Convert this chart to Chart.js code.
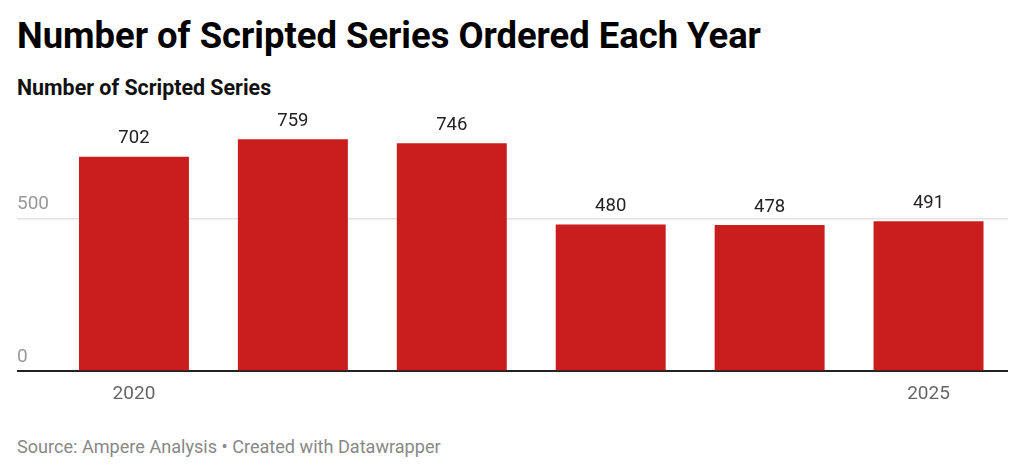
<!DOCTYPE html>
<html>
<head>
<meta charset="utf-8">
<script src="https://cdn.jsdelivr.net/npm/chart.js@4"></script>
<style>
  html, body { margin: 0; padding: 0; background: #fff; width: 1024px; height: 474px; overflow: hidden; font-family: Roboto, "Noto Sans", sans-serif; }
  .t { position: absolute; left: 17px; white-space: nowrap; line-height: 1; }
  #title { top: 18px; font-size: 36.4px; font-weight: 700; color: #000; }
  #subtitle { top: 77px; font-size: 21.4px; font-weight: 700; color: #111; }
  #footer { top: 438px; font-size: 18.1px; color: #888; }
  #wrap { position: absolute; left: 0; top: 100px; width: 1024px; height: 320px; }
</style>
</head>
<body>
<div class="t" id="title">Number of Scripted Series Ordered Each Year</div>
<div class="t" id="subtitle">Number of Scripted Series</div>
<div id="wrap"><canvas id="c"></canvas></div>
<div class="t" id="footer">Source: Ampere Analysis • Created with Datawrapper</div>
<script>
const years = ['2020', '2021', '2022', '2023', '2024', '2025'];
const seriesOrdered = [702, 759, 746, 480, 478, 491];
const xTickLabels = ['2020', '2025'];
const yTickValues = [0, 500];

const valueLabels = {
  id: 'valueLabels',
  afterDatasetsDraw(chart) {
    const ctx = chart.ctx;
    const meta = chart.getDatasetMeta(0);
    ctx.save();
    ctx.font = '18.5px Roboto';
    ctx.fillStyle = '#222';
    ctx.textAlign = 'center';
    ctx.textBaseline = 'alphabetic';
    meta.data.forEach((bar, i) => {
      ctx.fillText(String(seriesOrdered[i]), bar.x, bar.y - 13.5);
    });
    ctx.restore();
  }
};

new Chart(document.getElementById('c'), {
  type: 'bar',
  data: {
    labels: years,
    datasets: [{
      data: seriesOrdered,
      backgroundColor: '#c91d1e',
      borderWidth: 0,
      barPercentage: 0.692,
      categoryPercentage: 1
    }]
  },
  options: {
    responsive: true,
    maintainAspectRatio: false,
    animation: false,
    layout: { padding: { left: 17, right: 16, top: 26.7, bottom: 10 } },
    plugins: { legend: { display: false }, tooltip: { enabled: false } },
    scales: {
      x: {
        grid: { display: false },
        border: { display: false },
        ticks: {
          autoSkip: false,
          maxRotation: 0,
          padding: 4,
          color: '#666',
          font: { family: 'Roboto', size: 19 },
          callback: function (v, i) {
            const l = this.getLabelForValue(v);
            return xTickLabels.includes(l) ? l : '';
          }
        }
      },
      y: {
        min: 0,
        max: 800,
        afterBuildTicks: s => { s.ticks = yTickValues.map(v => ({ value: v })); },
        afterFit: s => { s.width = 37.5; },
        border: { display: false },
        grid: {
          drawTicks: true,
          tickLength: 37.5,
          color: c => (c.tick && c.tick.value === 0) ? '#222' : '#e2e2e2',
          lineWidth: c => (c.tick && c.tick.value === 0) ? 2 : 1.5
        },
        ticks: {
          crossAlign: 'far',
          labelOffset: -14,
          padding: 0,
          color: '#999',
          font: { family: 'Roboto', size: 19 }
        }
      }
    }
  },
  plugins: [valueLabels]
});
</script>
</body>
</html>
